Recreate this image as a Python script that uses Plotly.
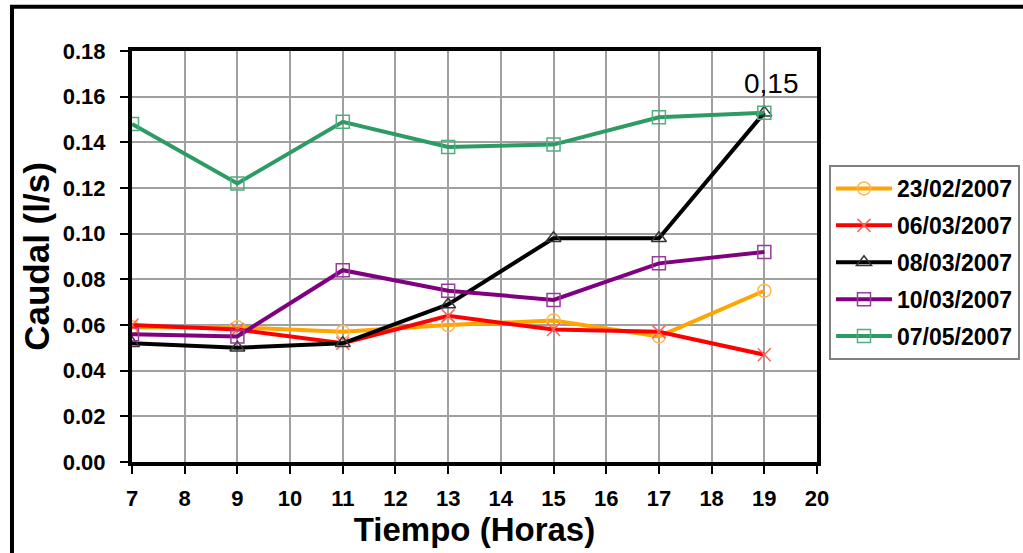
import plotly.graph_objects as go

# Hours of measurement
horas = [7, 9, 11, 13, 15, 17, 19]

# Flow (l/s) per sampling date
fechas = ["23/02/2007", "06/03/2007", "08/03/2007", "10/03/2007", "07/05/2007"]
caudal_2302 = [0.059, 0.059, 0.057, 0.060, 0.062, 0.055, 0.075]
caudal_0603 = [0.060, 0.058, 0.052, 0.064, 0.058, 0.057, 0.047]
caudal_0803 = [0.052, 0.050, 0.052, 0.069, 0.098, 0.098, 0.153]
caudal_1003 = [0.056, 0.055, 0.084, 0.075, 0.071, 0.087, 0.092]
caudal_0705 = [0.148, 0.122, 0.149, 0.138, 0.139, 0.151, 0.153]

series = [caudal_2302, caudal_0603, caudal_0803, caudal_1003, caudal_0705]
colores = ["#FFA500", "#FF0000", "#000000", "#800080", "#2E9B64"]
bordes = ["#FFB84D", "#FF6060", "#333333", "#9B3A9B", "#4FAF7F"]
simbolos = ["circle-open", "x-thin-open", "triangle-up-open", "square-open", "square-open"]

FONT = "Liberation Sans, Arial, sans-serif"

fig = go.Figure()
for nombre, valores, color, borde, simbolo in zip(fechas, series, colores, bordes, simbolos):
    fig.add_trace(go.Scatter(
        x=horas, y=valores, name=nombre, legendgroup=nombre,
        mode="lines+markers",
        line=dict(color=color, width=4),
        marker=dict(symbol=simbolo, size=13, color=borde, line=dict(color=borde, width=1.5)),
    ))

# Label the last point of the 08/03/2007 series
fig.add_annotation(
    x=horas[-1], y=caudal_0803[-1], text="0,15", showarrow=False,
    xanchor="center", yanchor="bottom", xshift=7, yshift=12,
    font=dict(family=FONT, size=28, color="#000000"),
)

# Outer frame around the figure
fig.add_shape(
    type="rect", xref="paper", yref="paper",
    x0=-0.1752, x1=1.32, y0=-0.25, y1=1.1075,
    line=dict(color="#000000", width=4), layer="below",
)

fig.update_xaxes(
    range=[7, 20], dtick=1, tick0=7,
    showgrid=True, gridcolor="#A0A0A0", gridwidth=2,
    showline=True, linecolor="#000000", linewidth=4, mirror=True,
    ticks="outside", ticklen=8, tickwidth=1.5, tickcolor="#000000",
    ticklabelstandoff=6,
    tickfont=dict(family=FONT, size=22, color="#000000", weight="bold"),
    title=dict(text="Tiempo (Horas)", standoff=2,
               font=dict(family=FONT, size=33, color="#000000", weight="bold")),
    zeroline=False,
)
fig.update_yaxes(
    range=[0, 0.18], dtick=0.02, tickformat=".2f",
    showgrid=True, gridcolor="#A0A0A0", gridwidth=2,
    showline=True, linecolor="#000000", linewidth=4, mirror=True,
    ticks="outside", ticklen=8, tickwidth=1.5, tickcolor="#000000",
    ticklabelstandoff=10,
    tickfont=dict(family=FONT, size=22, color="#000000", weight="bold"),
    title=dict(text="Caudal (l/s)", standoff=4,
               font=dict(family=FONT, size=35, color="#000000", weight="bold")),
    zeroline=False,
)

fig.update_layout(
    width=1023, height=553,
    margin=dict(l=132, r=206, t=51, b=91, autoexpand=False),
    paper_bgcolor="#FFFFFF", plot_bgcolor="#FFFFFF",
    showlegend=True,
    legend=dict(
        x=1.0175, y=0.7226, xanchor="left", yanchor="top",
        bgcolor="#FFFFFF", bordercolor="#808080", borderwidth=2,
        traceorder="grouped", tracegroupgap=4, itemwidth=56,
        font=dict(family=FONT, size=23, color="#000000", weight="bold"),
    ),
)

fig.write_html("out.html")
